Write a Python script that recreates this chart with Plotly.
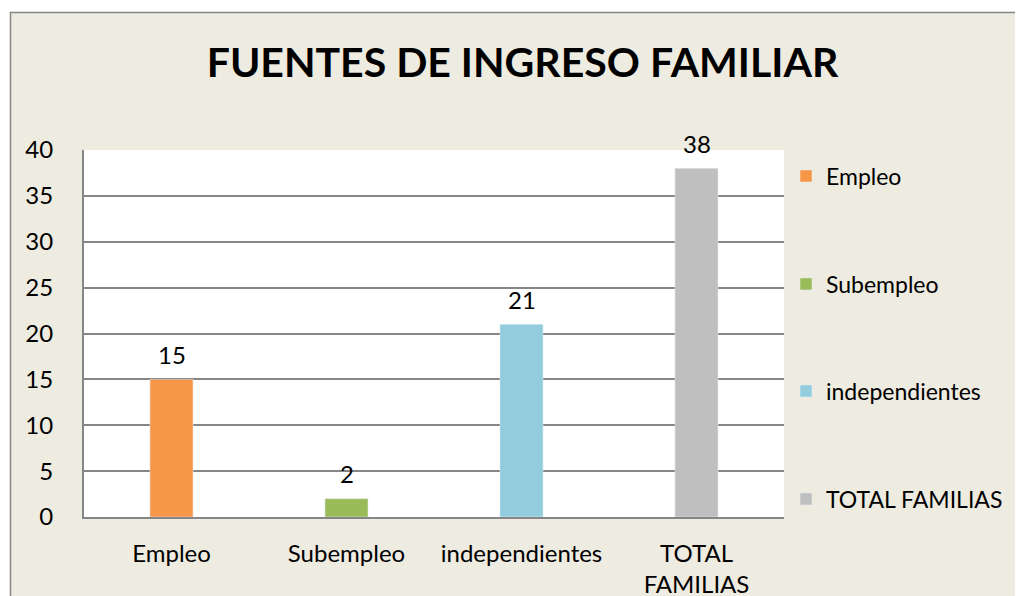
import plotly.graph_objects as go

categories = ["Empleo", "Subempleo", "independientes", "TOTAL FAMILIAS"]
values = [15, 2, 21, 38]
tick_labels = ["Empleo", "Subempleo", "independientes", "TOTAL<br>FAMILIAS"]
colors = ["#F79646", "#9BBB59", "#93CDDD", "#BFBFBF"]
title_text = "FUENTES DE INGRESO FAMILIAR"

FONT = "Lato, 'Open Sans', sans-serif"
OFF = 8  # page body margin
W, H = 1015, 588
# plot area in page pixels: x 84..784, y 150..517
L = 84 - OFF
T = 150 - OFF
R = W - (784 - OFF)
B = H - (517 - OFF)
pw, ph = W - L - R, H - T - B

def px_x(p):
    return (p - OFF - L) / pw

def px_y(p):
    return (T + ph - (p - OFF)) / ph

fig = go.Figure()
legend_names = ["legend", "legend2", "legend3", "legend4"]
legend_y_px = [176, 284, 391, 499]
for i, (c, v, col) in enumerate(zip(categories, values, colors)):
    fig.add_trace(go.Bar(
        x=[c], y=[v], name=c, marker_color=col, width=0.246,
        legend=legend_names[i], showlegend=True,
    ))

annotations = [
    dict(x=c, y=v, xref="x", yref="y", text=str(v), showarrow=False,
         yanchor="middle", yshift=25,
         font=dict(size=24, color="black", family=FONT))
    for c, v in zip(categories, values)
]

legend_layout = {}
for i, ln in enumerate(legend_names):
    legend_layout[ln] = dict(
        x=px_x(786), y=px_y(legend_y_px[i]), xanchor="left", yanchor="middle",
        bgcolor="rgba(0,0,0,0)", font=dict(size=23, color="black", family=FONT),
    )

fig.update_layout(
    width=W, height=H,
    margin=dict(l=L, r=R, t=T, b=B, autoexpand=False),
    paper_bgcolor="white", plot_bgcolor="white",
    barmode="overlay",
    font=dict(family=FONT, color="black", size=24),
    title=dict(text="<b>" + title_text + "</b>", x=(522.5 - OFF) / W, xanchor="center",
               y=1 - (63 - OFF) / H, yanchor="middle",
               font=dict(size=41, family=FONT, color="black")),
    xaxis=dict(categoryorder="array", categoryarray=categories,
               tickmode="array", tickvals=categories, ticktext=tick_labels,
               showline=True, linecolor="#868686", linewidth=2,
               showgrid=False, ticks="", tickfont=dict(size=24),
               ticklabelstandoff=14),
    yaxis=dict(range=[0, 40], dtick=5, tick0=0, showline=True,
               linecolor="#868686", linewidth=2, gridcolor="#868686",
               gridwidth=1.5, zeroline=False, ticks="",
               tickfont=dict(size=24), ticklabelstandoff=24),
    shapes=[
        dict(type="rect", xref="paper", yref="paper",
             x0=px_x(10.5), x1=px_x(1100), y0=px_y(700), y1=px_y(12.5),
             fillcolor="#EEEBE0", line=dict(color="#868686", width=1.5),
             layer="below"),
        dict(type="rect", xref="paper", yref="paper",
             x0=0, x1=1, y0=0, y1=1,
             fillcolor="white", line=dict(width=0), layer="below"),
    ],
    annotations=annotations,
    **legend_layout,
)

fig.write_html("out.html")
